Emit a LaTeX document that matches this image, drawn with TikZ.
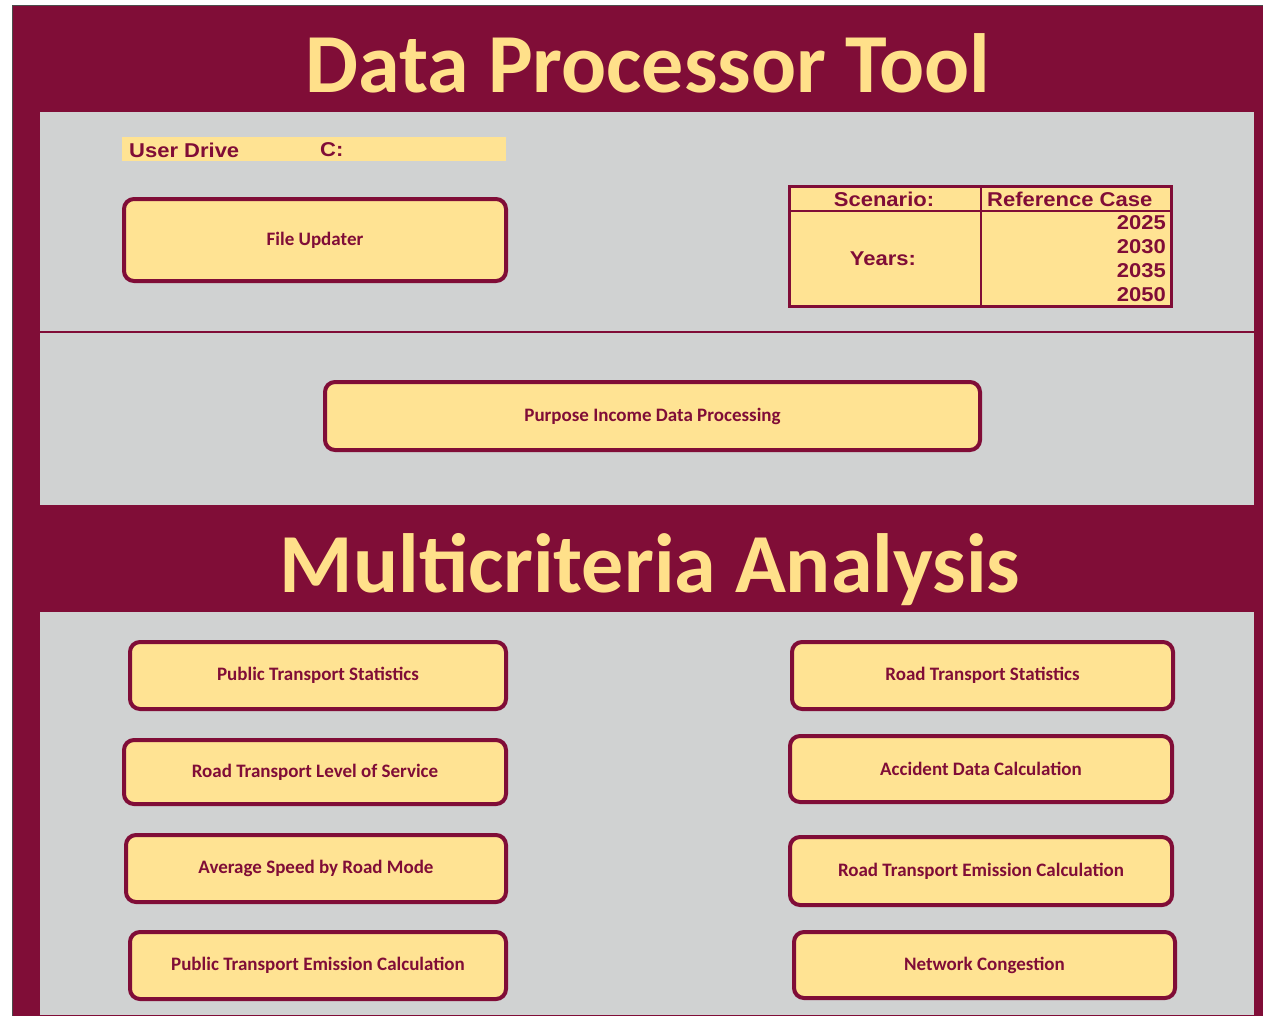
\documentclass[tikz,border=0pt]{standalone}
\usepackage{fontspec}
\setmainfont{Carlito}
\newfontfamily\cellfont{Liberation Sans}
\usetikzlibrary{positioning}
\definecolor{maroon}{HTML}{800D37}
\definecolor{panel}{HTML}{D0D2D2}
\definecolor{cream}{HTML}{FFE393}
\definecolor{titlegold}{HTML}{FFE08A}
% slightly widened sheet-cell lettering
\newcommand{\cellwide}[1]{\scalebox{1.1}[1]{#1}}
\tikzset{
  btn/.style={draw=maroon, line width=4pt, fill=cream, rounded corners=10pt,
    text=maroon, font=\bfseries\fontsize{19}{19}\selectfont, inner sep=0pt},
  bigtitle/.style={text=titlegold, font=\bfseries\fontsize{84}{84}\selectfont, inner sep=0pt, anchor=base},
  cell/.style={text=maroon, font=\cellfont\bfseries\fontsize{20}{20}\selectfont, inner sep=0pt},
}
\begin{document}
\begin{tikzpicture}[x=1pt, y=-1pt]
\useasboundingbox (0,0) rectangle (1263,1015);
% outer maroon frame
\fill[white] (0,0) rectangle (1263,1015);
\draw[fill=maroon, draw=black!70, line width=1pt] (12.5,5.5) rectangle (1275,1030);
% grey panels
\fill[panel] (40,112) rectangle (1254,505);
\fill[panel] (40,612) rectangle (1254,1015);
\draw[maroon, line width=1.5pt] (40,332) -- (1254,332);

% headings
\node[bigtitle] (title) at (648,92) {Data Processor Tool};
\node[bigtitle] (mca) at (650,592) {Multicriteria Analysis};

% user drive strip
\fill[cream] (122,137) rectangle (506,161);
\node[cell, anchor=west] (drive) at (129,150) {\cellwide{User Drive}};
\node[cell, anchor=west] (driveval) at (320,150) {\cellwide{C:}};

% scenario table
\draw[maroon, line width=3pt, fill=cream] (789,186) rectangle (1171,306);
\draw[maroon, line width=2pt] (789,211) -- (1171,211);
\draw[maroon, line width=2pt] (981,186) -- (981,306);
\node[cell] (scen) at (884,199) {\cellwide{Scenario:}};
\node[cell, anchor=west] (case) at (987,199) {\cellwide{Reference Case}};
\node[cell] (years) at (883,259) {\cellwide{Years:}};
\node[cell, anchor=east] (y1) at (1166,223) {\cellwide{2025}};
\node[cell, anchor=east] (y2) at (1166,247) {\cellwide{2030}};
\node[cell, anchor=east] (y3) at (1166,271) {\cellwide{2035}};
\node[cell, anchor=east] (y4) at (1166,295) {\cellwide{2050}};

% buttons
\node[btn, minimum width=382pt, minimum height=82pt] (fileupd) at (315,240) {File Updater};
\node[btn, minimum width=655pt, minimum height=68pt] (purpose) at (652.5,416) {Purpose Income Data Processing};

\node[btn, minimum width=376pt, minimum height=67pt] (pts) at (318,675.5) {Public Transport Statistics};
\node[btn, minimum width=382pt, minimum height=64pt] (rtlos) at (315,772) {Road Transport Level of Service};
\node[btn, minimum width=380pt, minimum height=67pt] (asrm) at (316,868.5) {Average Speed by Road Mode};
\node[btn, minimum width=376pt, minimum height=67pt] (ptec) at (318,965.5) {Public Transport Emission Calculation};

\node[btn, minimum width=381pt, minimum height=67pt] (rts) at (982.5,675.5) {Road Transport Statistics};
\node[btn, minimum width=382pt, minimum height=66pt] (adc) at (981,769) {Accident Data Calculation};
\node[btn, minimum width=382pt, minimum height=68pt] (rtec) at (981,871) {Road Transport Emission Calculation};
\node[btn, minimum width=381pt, minimum height=66pt] (nc) at (984.5,965) {Network Congestion};
\end{tikzpicture}
\end{document}
